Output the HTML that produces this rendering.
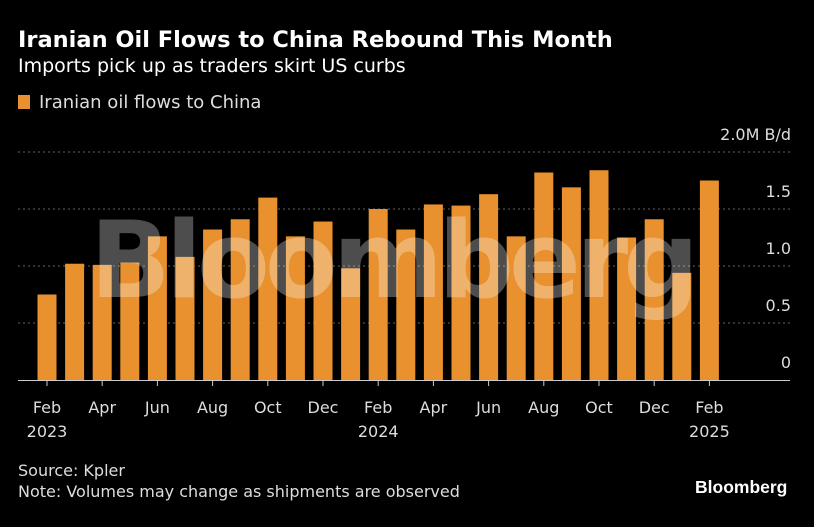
<!DOCTYPE html>
<html><head><meta charset="utf-8"><style>
body{margin:0;background:#000;width:814px;height:527px;overflow:hidden;font-family:"DejaVu Sans",sans-serif;color:#fff;position:relative}
.t{position:absolute;white-space:nowrap}
</style></head><body>
<div class="t" style="left:18px;top:27px;font-size:22.5px;font-weight:bold">Iranian Oil Flows to China Rebound This Month</div>
<div class="t" style="left:18px;top:55px;font-size:19px">Imports pick up as traders skirt US curbs</div>
<div class="t" style="left:18px;top:92px;font-size:18px;color:#ddd"><span style="display:inline-block;width:12px;height:14px;background:#e8912e;margin-right:9px;vertical-align:-1px"></span>Iranian oil flows to China</div>
<svg id="c" width="814" height="527" style="position:absolute;left:0;top:0"></svg>
<div class="t" style="left:18px;top:461px;font-size:16px;color:#ddd">Source: Kpler</div>
<div class="t" style="left:18px;top:482px;font-size:16px;color:#ddd">Note: Volumes may change as shipments are observed</div>
<div class="t" style="left:695px;top:477px;font-size:17.5px;font-weight:bold;font-family:'Liberation Sans',sans-serif">Bloomberg</div>
<script>
const values=[0.75,1.02,1.01,1.03,1.26,1.08,1.32,1.41,1.60,1.26,1.39,0.98,1.50,1.32,1.54,1.53,1.63,1.26,1.82,1.69,1.84,1.25,1.41,0.94,1.75];
const tickValues=[0,0.5,1.0,1.5,2.0];
const tickLabels=["0","0.5","1.0","1.5","2.0M B/d"];
const monthLabels=["Feb","Apr","Jun","Aug","Oct","Dec","Feb","Apr","Jun","Aug","Oct","Dec","Feb"];
const yearLabels={0:"2023",6:"2024",12:"2025"};
const svg=document.getElementById('c');const NS='http://www.w3.org/2000/svg';
const y=v=>380-v*114, x=i=>47+i*27.6;
const FF='DejaVu Sans';
function mk(t,a){const e=document.createElementNS(NS,t);for(const k in a)e.setAttribute(k,a[k]);svg.appendChild(e);return e;}
tickValues.forEach((v,i)=>{
 if(v>0){const g=mk('line',{x1:18,x2:790,y1:y(v),y2:y(v),stroke:'#666','stroke-dasharray':'2,3'});
 
 }
 const t=mk('text',{x:791,y:y(v)-12,'text-anchor':'end','font-size':16,fill:'#ddd','font-family':FF});
 t.textContent=tickLabels[i];
 
 
});
values.forEach((v,i)=>{
 const r=mk('rect',{x:x(i)-9.5,y:y(v),width:19,height:380-y(v),fill:'#e8912e'});
 
 
});
const wm=mk('text',{x:392,y:297,'text-anchor':'middle','font-size':106,'font-weight':'bold',fill:'#fff','fill-opacity':0.3,'font-family':FF,'letter-spacing':'-5'});
wm.textContent='Bloomberg';


const ax=mk('line',{x1:18,x2:790,y1:380.5,y2:380.5,stroke:'#ccc'});


monthLabels.forEach((m,j)=>{const i=j*2;
 const tk=mk('line',{x1:x(i),x2:x(i),y1:380,y2:386,stroke:'#ccc'});
 
 
 const t=mk('text',{x:x(i),y:413,'text-anchor':'middle','font-size':16,fill:'#ddd','font-family':FF});
 t.textContent=m;
 
 
 if(yearLabels[j]){const yt=mk('text',{x:x(i),y:437,'text-anchor':'middle','font-size':16,fill:'#ddd','font-family':FF});
 yt.textContent=yearLabels[j];
 
 }
});
</script>
</body></html>
